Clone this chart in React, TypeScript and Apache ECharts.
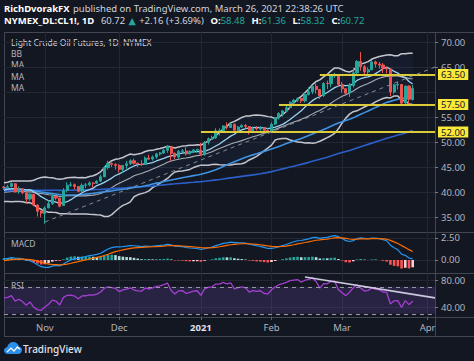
import React, { useEffect, useRef } from "react";
import * as echarts from "echarts";

// closes before the visible window (used only to warm up the indicators)
const historyCloses = [
  35.49,
  35.44, 36.81, 37.29, 37.41, 39.55, 38.19, 38.94, 39.6, 36.34, 36.26, 37.12, 38.38, 37.96, 38.84, 39.75, 40.73, 40.37, 38.01, 38.72, 38.49, 39.7, 39.27,
  39.82, 40.65, 40.73, 40.62, 40.9, 39.62, 40.55, 40.1, 40.29, 40.75, 40.77, 40.59, 40.81, 41.96, 41.92, 41.07, 41.29, 41.6, 41.04, 39.92, 41.27, 40.27,
  41.01, 41.7, 42.19, 41.95, 41.22, 41.94, 41.61, 42.67, 42.24, 42.01, 42.01, 42.89, 42.93, 42.82, 42.34, 42.62, 43.35, 42.97, 43.39, 43.04, 42.61,
  42.76, 41.51, 41.37, 39.77, 36.76, 38.05, 37.3, 37.33, 37.26, 38.28, 40.16, 40.97, 41.11, 39.31, 39.8, 39.6, 39.93, 40.31, 40.25, 40.6, 39.29, 40.22,
  38.72, 37.05, 39.22, 40.67, 39.95, 41.19, 40.6, 39.43, 39.57, 41.04, 40.96,
];

// [date, open, close, low, high]
const candles: [string, number, number, number, number][] = [
  ["2020-10-16", 40.95, 40.88, 40.45, 41.2],
  ["2020-10-19", 40.9, 41.06, 40.6, 41.45],
  ["2020-10-20", 41.1, 41.7, 40.9, 41.9],
  ["2020-10-21", 41.65, 40.03, 39.85, 41.78],
  ["2020-10-22", 40.05, 40.64, 39.65, 41.1],
  ["2020-10-23", 40.6, 39.85, 39.55, 40.75],
  ["2020-10-26", 39.8, 38.56, 37.85, 39.85],
  ["2020-10-27", 38.6, 39.57, 38.25, 39.75],
  ["2020-10-28", 39.55, 37.39, 37.15, 39.65],
  ["2020-10-29", 37.4, 36.17, 35.1, 37.5],
  ["2020-10-30", 36.2, 35.79, 34.92, 36.25],
  ["2020-11-02", 35.7, 36.81, 33.64, 37.15],
  ["2020-11-03", 36.85, 37.66, 36.7, 38.35],
  ["2020-11-04", 37.7, 39.15, 37.4, 39.7],
  ["2020-11-05", 39.1, 38.79, 38.35, 39.25],
  ["2020-11-06", 38.8, 37.14, 36.95, 38.85],
  ["2020-11-09", 37.3, 40.29, 37.2, 40.77],
  ["2020-11-10", 40.3, 41.36, 39.95, 41.95],
  ["2020-11-11", 41.35, 41.45, 41.05, 42.0],
  ["2020-11-12", 41.45, 41.12, 40.55, 41.7],
  ["2020-11-13", 41.1, 40.13, 39.95, 41.2],
  ["2020-11-16", 40.2, 41.34, 39.8, 41.7],
  ["2020-11-17", 41.35, 41.43, 40.8, 41.8],
  ["2020-11-18", 41.45, 41.82, 41.15, 42.15],
  ["2020-11-19", 41.8, 41.74, 40.9, 41.95],
  ["2020-11-20", 41.75, 42.15, 41.6, 42.4],
  ["2020-11-23", 42.2, 43.06, 42.0, 43.5],
  ["2020-11-24", 43.05, 44.91, 42.95, 45.2],
  ["2020-11-25", 44.9, 45.71, 44.5, 46.26],
  ["2020-11-27", 45.7, 45.53, 45.0, 45.9],
  ["2020-11-30", 45.5, 45.34, 44.5, 45.75],
  ["2020-12-01", 45.3, 44.55, 43.92, 45.55],
  ["2020-12-02", 44.5, 45.28, 43.85, 45.4],
  ["2020-12-03", 45.3, 45.64, 44.65, 46.19],
  ["2020-12-04", 45.65, 46.26, 45.4, 46.55],
  ["2020-12-07", 46.25, 45.76, 45.5, 46.68],
  ["2020-12-08", 45.75, 45.6, 44.95, 45.9],
  ["2020-12-09", 45.6, 45.52, 45.2, 46.35],
  ["2020-12-10", 45.55, 46.78, 45.4, 47.1],
  ["2020-12-11", 46.8, 46.57, 46.4, 47.44],
  ["2020-12-14", 46.6, 46.99, 46.25, 47.31],
  ["2020-12-15", 47.0, 47.62, 46.65, 47.85],
  ["2020-12-16", 47.6, 47.82, 47.3, 48.0],
  ["2020-12-17", 47.8, 48.36, 47.6, 48.59],
  ["2020-12-18", 48.35, 49.1, 47.85, 49.28],
  ["2020-12-21", 49.0, 47.74, 46.16, 49.1],
  ["2020-12-22", 47.75, 47.02, 46.6, 47.9],
  ["2020-12-23", 47.0, 48.12, 46.7, 48.4],
  ["2020-12-24", 48.1, 48.23, 47.8, 48.6],
  ["2020-12-28", 48.2, 47.62, 47.3, 48.96],
  ["2020-12-29", 47.65, 48.0, 47.5, 48.35],
  ["2020-12-30", 48.0, 48.4, 47.9, 48.6],
  ["2020-12-31", 48.4, 48.52, 47.8, 48.6],
  ["2021-01-04", 48.4, 47.62, 47.18, 49.83],
  ["2021-01-05", 47.6, 49.93, 47.26, 50.2],
  ["2021-01-06", 49.95, 50.63, 49.5, 50.94],
  ["2021-01-07", 50.6, 50.83, 50.4, 51.28],
  ["2021-01-08", 50.8, 52.24, 50.6, 52.75],
  ["2021-01-11", 52.25, 52.25, 51.28, 52.75],
  ["2021-01-12", 52.25, 53.21, 51.8, 53.31],
  ["2021-01-13", 53.2, 52.91, 52.5, 53.93],
  ["2021-01-14", 52.9, 53.57, 52.8, 53.8],
  ["2021-01-15", 53.55, 52.36, 51.9, 53.7],
  ["2021-01-19", 52.4, 52.98, 52.1, 53.2],
  ["2021-01-20", 53.0, 53.31, 52.8, 53.55],
  ["2021-01-21", 53.3, 53.13, 52.5, 53.6],
  ["2021-01-22", 53.1, 52.27, 51.5, 53.2],
  ["2021-01-25", 52.25, 52.77, 52.0, 53.1],
  ["2021-01-26", 52.75, 52.61, 52.3, 53.15],
  ["2021-01-27", 52.6, 52.85, 52.25, 53.2],
  ["2021-01-28", 52.85, 52.34, 51.7, 53.0],
  ["2021-01-29", 52.3, 52.2, 51.85, 52.8],
  ["2021-02-01", 52.2, 53.55, 51.8, 53.95],
  ["2021-02-02", 53.6, 54.76, 53.4, 55.0],
  ["2021-02-03", 54.8, 55.69, 54.5, 55.95],
  ["2021-02-04", 55.7, 56.23, 55.1, 56.33],
  ["2021-02-05", 56.25, 56.85, 56.0, 57.27],
  ["2021-02-08", 56.9, 57.97, 56.8, 58.11],
  ["2021-02-09", 57.95, 58.36, 57.4, 58.62],
  ["2021-02-10", 58.35, 58.68, 58.0, 58.91],
  ["2021-02-11", 58.7, 58.24, 57.8, 58.85],
  ["2021-02-12", 58.25, 59.47, 57.9, 59.82],
  ["2021-02-16", 59.5, 60.05, 59.3, 60.95],
  ["2021-02-17", 60.05, 61.14, 59.6, 61.27],
  ["2021-02-18", 61.15, 60.52, 59.7, 61.73],
  ["2021-02-19", 60.5, 59.24, 58.59, 60.6],
  ["2021-02-22", 59.3, 61.7, 59.0, 61.98],
  ["2021-02-23", 61.7, 61.67, 60.6, 62.26],
  ["2021-02-24", 61.65, 63.22, 60.95, 63.3],
  ["2021-02-25", 63.2, 63.53, 62.8, 63.81],
  ["2021-02-26", 63.5, 61.5, 61.2, 63.6],
  ["2021-03-01", 61.5, 60.64, 59.9, 62.0],
  ["2021-03-02", 60.65, 59.75, 59.3, 60.8],
  ["2021-03-03", 59.8, 61.28, 59.0, 61.8],
  ["2021-03-04", 61.3, 63.83, 60.9, 64.86],
  ["2021-03-05", 63.85, 66.09, 63.4, 66.4],
  ["2021-03-08", 66.1, 65.05, 64.25, 67.98],
  ["2021-03-09", 65.05, 64.01, 63.15, 65.4],
  ["2021-03-10", 64.0, 64.44, 63.2, 64.9],
  ["2021-03-11", 64.45, 66.02, 64.35, 66.4],
  ["2021-03-12", 66.0, 65.61, 64.9, 66.25],
  ["2021-03-15", 65.6, 65.39, 64.7, 66.0],
  ["2021-03-16", 65.4, 64.8, 63.8, 65.8],
  ["2021-03-17", 64.8, 64.6, 63.7, 65.0],
  ["2021-03-18", 64.6, 60.0, 59.2, 64.7],
  ["2021-03-19", 60.0, 61.42, 59.65, 61.6],
  ["2021-03-22", 61.4, 61.55, 60.5, 62.0],
  ["2021-03-23", 61.5, 57.76, 57.3, 61.6],
  ["2021-03-24", 57.8, 61.18, 57.6, 61.25],
  ["2021-03-25", 61.2, 58.56, 57.32, 61.3],
  ["2021-03-26", 58.48, 60.72, 58.32, 61.36],
];

const futureDates = ["2021-03-29", "2021-03-30", "2021-03-31", "2021-04-01", "2021-04-02", "2021-04-05"];
const priceGridValues = [35, 40, 45, 50, 55, 60, 65, 70];
const priceLabelValues = [35, 40, 45, 50, 55, 65, 70]; // 60.00 is hidden under the last-price tag
const macdTicks = [0, 2.5];
const rsiTicks = [40, 80];
const rsiBand = [30, 70];
const levelValues = [63.5, 57.5, 52.0];
const levelStartDates = ["2021-02-19", "2021-02-03", "2021-01-04"];
const priceTrend: [string, number][] = [["2020-11-02", 34.0], ["2021-04-05", 65.0]];
const rsiTrend: [string, number][] = [["2021-02-12", 84.4], ["2021-04-05", 53.5]];
const monthNames = ["Jan", "Feb", "Mar", "Apr", "May", "Jun", "Jul", "Aug", "Sep", "Oct", "Nov", "Dec"];

const FONT = "'Noto Sans', 'DejaVu Sans', sans-serif";
const BG = "#131722";
const FRAME = "#434651";
const GRIDC = "#232733";
const AXT = "#b2b5be";

function sma(arr: number[], n: number) {
  return arr.map((_, i) => {
    if (i < n - 1) return null;
    let s = 0;
    for (let k = i - n + 1; k <= i; k++) s += arr[k];
    return s / n;
  });
}
function stdev(arr: number[], n: number) {
  return arr.map((_, i) => {
    if (i < n - 1) return null;
    let s = 0;
    for (let k = i - n + 1; k <= i; k++) s += arr[k];
    const m = s / n;
    let v = 0;
    for (let k = i - n + 1; k <= i; k++) v += (arr[k] - m) * (arr[k] - m);
    return Math.sqrt(v / n);
  });
}
function ema(arr: number[], n: number) {
  const k = 2 / (n + 1);
  const out: number[] = [];
  arr.forEach((v, i) => out.push(i === 0 ? v : v * k + out[i - 1] * (1 - k)));
  return out;
}
function rsi(arr: number[], n: number) {
  const out: (number | null)[] = arr.map(() => null);
  let ag = 0, al = 0;
  for (let i = 1; i < arr.length; i++) {
    const d = arr[i] - arr[i - 1];
    const g = Math.max(d, 0), l = Math.max(-d, 0);
    if (i <= n) {
      ag += g / n; al += l / n;
    } else {
      ag = (ag * (n - 1) + g) / n; al = (al * (n - 1) + l) / n;
    }
    if (i >= n) out[i] = al === 0 ? 100 : 100 - 100 / (1 + ag / al);
  }
  return out;
}

function buildOption() {
  const dates = candles.map((c) => c[0]);
  const cats = dates.concat(futureDates);
  const closes = candles.map((c) => c[2]);
  const all = historyCloses.concat(closes);
  const H = historyCloses.length;
  const vis = (a: any[]) => a.slice(H);
  const r2 = (v: number | null) => (v == null ? null : Math.round(v * 1000) / 1000);

  const basis = sma(all, 20);
  const sd = stdev(all, 20);
  const upper = basis.map((b, i) => (b == null ? null : b + 2 * (sd[i] as number)));
  const lower = basis.map((b, i) => (b == null ? null : b - 2 * (sd[i] as number)));
  const bandW = upper.map((u, i) => (u == null ? null : u - (lower[i] as number)));
  const ma10 = sma(all, 10);
  const ma50 = sma(all, 50);
  const ma100 = sma(all, 100);
  const e12 = ema(all, 12), e26 = ema(all, 26);
  const macd = e12.map((v, i) => v - e26[i]);
  const sig = ema(macd, 9);
  const hist = macd.map((v, i) => v - sig[i]);
  const rsiAll = rsi(all, 14);

  const histVis = vis(hist) as number[];
  const histData = histVis.map((h, i) => {
    const prev = i > 0 ? histVis[i - 1] : hist[H - 1];
    const color = h >= 0 ? (h > prev ? "#26a69a" : "#b2dfdb") : h < prev ? "#ff5252" : "#ffcdd2";
    return { value: r2(h), itemStyle: { color } };
  });

  const monthStarts = new Set<number>();
  cats.forEach((d, i) => {
    if (i > 0 && d.slice(5, 7) !== cats[i - 1].slice(5, 7)) monthStarts.add(i);
  });
  const isMonthStart = (i: number) => monthStarts.has(i);
  const lastCat = cats[cats.length - 1];
  const last = candles[candles.length - 1];
  const prevClose = candles[candles.length - 2][2];
  const chg = last[2] - prevClose;

  const xAxis = (gi: number, labels: boolean) => ({
    type: "category",
    gridIndex: gi,
    data: cats,
    boundaryGap: false,
    axisLine: { show: false },
    axisTick: labels
      ? { show: true, interval: isMonthStart, length: 3, inside: false, lineStyle: { color: "#5d606b" } }
      : { show: false },
    axisLabel: labels
      ? {
          show: true,
          interval: isMonthStart,
          formatter: (v: string) => {
            const m = parseInt(v.slice(5, 7), 10);
            return m === 1 ? "{y|" + v.slice(0, 4) + "}" : monthNames[m - 1];
          },
          color: AXT,
          fontSize: 9.5,
          fontFamily: FONT,
          margin: 5,
          rich: { y: { color: "#e0e3eb", fontWeight: "bold", fontSize: 9.5, fontFamily: FONT } },
        }
      : { show: false },
    splitLine: {
      show: true,
      interval: isMonthStart,
      lineStyle: { color: GRIDC, width: 1 },
    },
  });

  const yAxis = (gi: number, min: number, max: number, ticks: number[]) => ({
    type: "value",
    gridIndex: gi,
    position: "right",
    min,
    max,
    axisLine: { show: false },
    axisTick: { show: true, customValues: ticks, length: 3, lineStyle: { color: "#787b86" } },
    axisLabel: {
      show: true,
      customValues: ticks,
      formatter: (v: number) => v.toFixed(2),
      color: AXT,
      fontSize: 9.5,
      fontFamily: FONT,
      margin: 6,
    },
    splitLine: { show: false },
  });

  const gridLineSeries = (xi: number, values: number[]) => ({
    type: "line",
    xAxisIndex: xi,
    yAxisIndex: xi,
    data: [],
    silent: true,
    z: 0,
    markLine: {
      silent: true,
      z: 0,
      symbol: ["none", "none"],
      label: { show: false },
      lineStyle: { color: GRIDC, type: "solid", width: 1 },
      data: values.map((v) => ({ yAxis: v })),
    },
  });

  const lineS = (data: any[], color: string, width: number) => ({
    type: "line",
    xAxisIndex: 0,
    yAxisIndex: 0,
    data: data.map(r2),
    showSymbol: false,
    symbol: "none",
    silent: true,
    lineStyle: { color, width },
    z: 3,
  });

  const levelLabel = (bg: string, fg: string) => ({
    show: true,
    position: "end",
    distance: 3,
    backgroundColor: bg,
    color: fg,
    padding: [1, 3, 0, 3],
    lineHeight: 10,
    fontSize: 9.5,
    fontFamily: FONT,
  });

  const markLines: any[] = levelValues.map((v, i) => [
    {
      coord: [levelStartDates[i], v],
      lineStyle: { color: "#dccb38", width: 2, type: "solid" },
      label: { ...levelLabel("#fbe93a", "#131722"), formatter: v.toFixed(2) },
    },
    { coord: [lastCat, v] },
  ]);
  markLines.push([
    { coord: priceTrend[0], lineStyle: { color: "#868993", width: 1, type: [4, 4] }, label: { show: false } },
    { coord: priceTrend[1] },
  ]);
  markLines.push([
    {
      coord: [last[0], last[2]],
      lineStyle: { opacity: 0 },
      label: { ...levelLabel("#26a69a", "#ffffff"), formatter: last[2].toFixed(2) },
    },
    { coord: [lastCat, last[2]] },
  ]);

  const T = (x: number, y: number, text: string, fill: string, size = 9.5, weight = "normal") => ({
    type: "text",
    x,
    y,
    silent: true,
    style: { text, fill, fontSize: size, fontFamily: FONT, fontWeight: weight, verticalAlign: "middle", align: "left" },
  });
  const L = (x1: number, y1: number, x2: number, y2: number) => ({
    type: "line",
    silent: true,
    shape: { x1, y1, x2, y2 },
    style: { stroke: FRAME, lineWidth: 1 },
  });

  const up = "#26a69a";
  const header2 =
    "{b|NYMEX_DL:CL1!, 1D}  {w|" + last[2].toFixed(2) + "} {g|▲} {w|" +
    (chg >= 0 ? "+" : "") + chg.toFixed(2) + " (" + (chg >= 0 ? "+" : "") + ((chg / prevClose) * 100).toFixed(2) + "%)}  " +
    "{b|O:}{g|" + last[1].toFixed(2) + "}  {b|H:}{g|" + last[4].toFixed(2) + "}  {b|L:}{g|" + last[3].toFixed(2) +
    "}  {b|C:}{g|" + last[2].toFixed(2) + "}";

  return {
    animation: false,
    backgroundColor: BG,
    textStyle: { fontFamily: FONT },
    grid: [
      { left: 4, right: 39, top: 32, height: 200 },
      { left: 4, right: 39, top: 232, height: 41 },
      { left: 4, right: 39, top: 273, height: 44 },
    ],
    xAxis: [xAxis(0, false), xAxis(1, false), xAxis(2, true)],
    yAxis: [
      yAxis(0, 32, 72, priceLabelValues),
      yAxis(1, -1.48, 3.18, macdTicks),
      yAxis(2, 25.2, 90.4, rsiTicks),
    ],
    series: [
      gridLineSeries(0, priceGridValues),
      gridLineSeries(1, macdTicks),
      gridLineSeries(2, rsiTicks),
      {
        type: "line", xAxisIndex: 0, yAxisIndex: 0, stack: "bb", data: vis(lower).map(r2),
        showSymbol: false, symbol: "none", silent: true, lineStyle: { opacity: 0 }, z: 1,
      },
      {
        type: "line", xAxisIndex: 0, yAxisIndex: 0, stack: "bb", data: vis(bandW).map(r2),
        showSymbol: false, symbol: "none", silent: true, lineStyle: { opacity: 0 },
        areaStyle: { color: "rgba(60,120,200,0.09)" }, z: 1,
      },
      lineS(vis(upper), "#c3c5cc", 1.5),
      lineS(vis(basis), "#a9acb5", 1.1),
      lineS(vis(lower), "#c3c5cc", 1.5),
      lineS(vis(ma100), "#2b5fc9", 1.6),
      lineS(vis(ma50), "#3f93e3", 1.6),
      lineS(vis(ma10), "#9fd2f3", 1.3),
      {
        type: "candlestick",
        xAxisIndex: 0,
        yAxisIndex: 0,
        data: candles.map((c) => [c[1], c[2], c[3], c[4]]),
        barWidth: 2.6,
        z: 4,
        silent: true,
        itemStyle: { color: up, color0: "#ef5350", borderColor: up, borderColor0: "#ef5350", borderWidth: 1 },
        markLine: { silent: true, symbol: ["none", "none"], z: 6, data: markLines },
      },
      {
        type: "bar",
        xAxisIndex: 1,
        yAxisIndex: 1,
        data: histData,
        barWidth: 2.6,
        silent: true,
        z: 2,
      },
      {
        type: "line", xAxisIndex: 1, yAxisIndex: 1, data: vis(macd).map(r2), showSymbol: false, symbol: "none",
        silent: true, lineStyle: { color: "#2196f3", width: 1.2 }, z: 3,
      },
      {
        type: "line", xAxisIndex: 1, yAxisIndex: 1, data: vis(sig).map(r2), showSymbol: false, symbol: "none",
        silent: true, lineStyle: { color: "#ff6d00", width: 1.2 }, z: 3,
      },
      {
        type: "line",
        xAxisIndex: 2,
        yAxisIndex: 2,
        data: vis(rsiAll).map(r2),
        showSymbol: false,
        symbol: "none",
        silent: true,
        lineStyle: { color: "#a43fd2", width: 1.3 },
        z: 3,
        markArea: {
          silent: true,
          itemStyle: { color: "rgba(126,87,194,0.2)" },
          data: [[{ yAxis: rsiBand[0] }, { yAxis: rsiBand[1] }]],
        },
        markLine: {
          silent: true,
          symbol: ["none", "none"],
          label: { show: false },
          data: [
            { yAxis: rsiBand[1], lineStyle: { color: "#9598a1", type: [4, 4], width: 1 } },
            { yAxis: rsiBand[0], lineStyle: { color: "#9598a1", type: [4, 4], width: 1 } },
            [
              { coord: rsiTrend[0], lineStyle: { color: "#cfc9e0", type: "solid", width: 1.6 } },
              { coord: rsiTrend[1] },
            ],
          ],
        },
      },
    ],
    graphic: [
      {
        type: "text",
        x: 4,
        y: 8,
        silent: true,
        style: {
          text: "{b|RichDvorakFX} {w|published on TradingView.com, March 26, 2021 22:38:26 UTC}",
          verticalAlign: "middle",
          rich: {
            b: { fill: "#ffffff", fontWeight: "bold", fontSize: 9.5, fontFamily: FONT },
            w: { fill: "#d1d4dc", fontSize: 9.5, fontFamily: FONT },
          },
        },
      },
      {
        type: "text",
        x: 4,
        y: 20,
        silent: true,
        style: {
          text: header2,
          verticalAlign: "middle",
          rich: {
            b: { fill: "#ffffff", fontWeight: "bold", fontSize: 9.5, fontFamily: FONT },
            w: { fill: "#d1d4dc", fontSize: 9.5, fontFamily: FONT },
            g: { fill: up, fontSize: 9.5, fontFamily: FONT },
          },
        },
      },
      L(4, 32.5, 474, 32.5),
      L(4.5, 32, 4.5, 336),
      L(4, 336.5, 474, 336.5),
      L(435.5, 32, 435.5, 336),
      L(4, 232.5, 474, 232.5),
      L(4, 273.5, 474, 273.5),
      L(4, 317.5, 474, 317.5),
      T(11, 42, "Light Crude Oil Futures, 1D, NYMEX", "#d1d4dc", 8.5),
      T(11, 53, "BB", AXT, 8.5),
      T(11, 64.5, "MA", AXT, 8.5),
      T(11, 76, "MA", AXT, 8.5),
      T(11, 87.5, "MA", AXT, 8.5),
      T(11, 243, "MACD", AXT, 8.5),
      T(11, 285, "RSI", AXT, 8.5),
      {
        type: "tvcloud",
        x: 4,
        y: 342,
        scaleX: 1,
        scaleY: 1,
        silent: true,
        style: { fill: "#2a8fe8" },
      },
      {
        type: "polyline",
        silent: true,
        shape: { points: [[7, 352], [11, 348], [14, 351], [17.5, 347], [20, 349.5]] },
        style: { stroke: "#ffffff", lineWidth: 1.2, fill: null },
      },
      T(23, 348.5, "TradingView", "#e0e3eb", 10, "500"),
    ],
  };
}

let registered = false;
function registerShapes() {
  if (registered) return;
  registered = true;
  const d =
    "M4 12 C1.8 12 0 10.4 0 8.4 C0 6.6 1.4 5.1 3.2 4.9 C3.9 2.1 6.3 0 9.2 0 C11.9 0 14.2 1.8 14.9 4.4 C16.7 4.6 18 6.1 18 7.9 C18 10.2 16.2 12 14 12 Z";
  echarts.graphic.registerShape("tvcloud", echarts.graphic.extendPath(d, {}));
}

export default function App() {
  const ref = useRef<HTMLDivElement>(null);
  useEffect(() => {
    document.body.style.margin = "0";
    registerShapes();
    const chart = echarts.init(ref.current!, undefined, { renderer: "svg" });
    chart.setOption(buildOption() as any);
    return () => chart.dispose();
  }, []);
  return <div ref={ref} style={{ width: 474, height: 361 }} />;
}
